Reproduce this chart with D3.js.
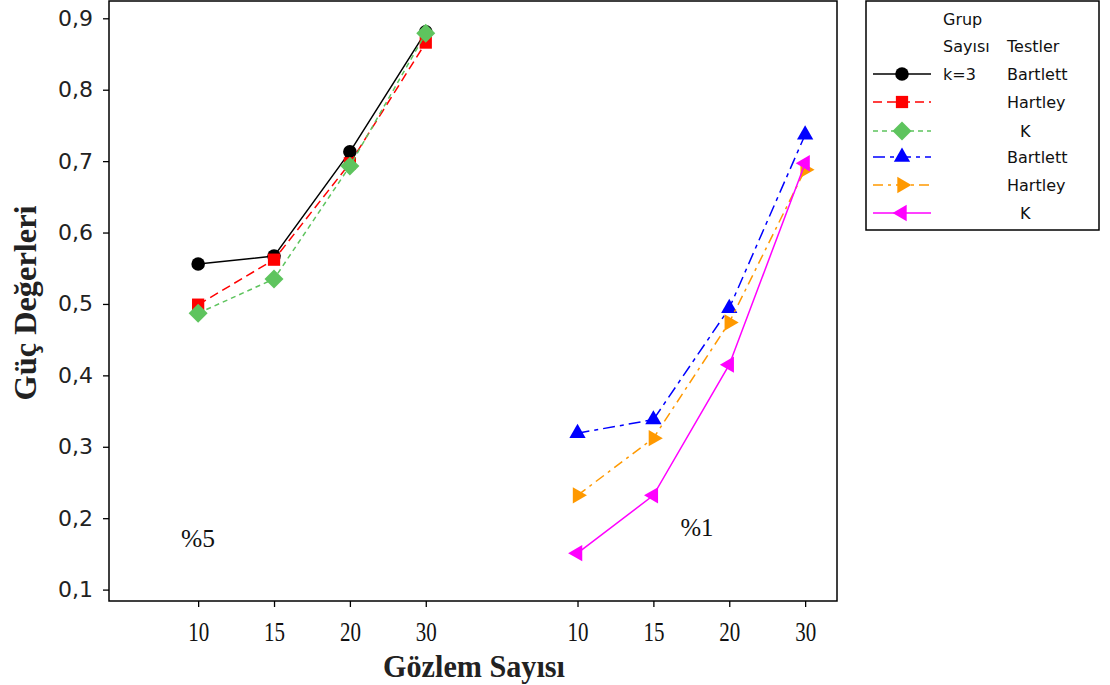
<!DOCTYPE html>
<html><head><meta charset="utf-8">
<script src="https://cdn.jsdelivr.net/npm/d3@7"></script>
<style>body{margin:0;background:#fff}svg{display:block}</style>
</head><body><svg id="c" width="1110" height="685"></svg>
<script>
const categories = ["10","15","20","30"];
const groupLabels = ["%5","%1"];
const yTicks = [0.1,0.2,0.3,0.4,0.5,0.6,0.7,0.8,0.9];
const legendTests = ["Bartlett","Hartley","K","Bartlett","Hartley","K"];
const bartlett5 = [0.556,0.567,0.713,0.881];
const hartley5  = [0.499,0.562,0.697,0.866];
const k5        = [0.487,0.535,0.693,0.879];
const bartlett1 = [0.319,0.338,0.494,0.737];
const hartley1  = [0.232,0.312,0.474,0.688];
const k1        = [0.151,0.232,0.415,0.697];

const series = [
  {vals:bartlett5, grp:0, color:"#000000", dash:null, sym:"circle"},
  {vals:hartley5,  grp:0, color:"#ff0000", dash:"9,5", sym:"square"},
  {vals:k5,        grp:0, color:"#5ec45e", dash:"5,4", sym:"diamond"},
  {vals:bartlett1, grp:1, color:"#0000ff", dash:"12,5,4,5", sym:"up"},
  {vals:hartley1,  grp:1, color:"#ff9900", dash:"10,5,3,5", sym:"right"},
  {vals:k1,        grp:1, color:"#ff00ff", dash:null, sym:"left"}
];

const svg = d3.select("#c");
const L=109, R=837, T=1, B=601;
const x = d3.scaleLinear().domain([-0.175, 9.42]).range([L,R]);
const y = d3.scaleLinear().domain([0.1,0.9]).range([589.6,18.3]);
const pos = (g,i)=> g*5 + i + 1;

function symPath(s){
  const map={circle:[d3.symbolCircle,145],square:[d3.symbolSquare,150],diamond:[d3.symbolDiamond2,230],
    up:[d3.symbolTriangle,115],right:[d3.symbolTriangle,115],left:[d3.symbolTriangle,115]};
  return d3.symbol().type(map[s][0]).size(map[s][1])();
}
const rot = {up:0,right:90,left:-90,circle:0,square:0,diamond:0};

// frame
svg.append("rect").attr("x",L).attr("y",T).attr("width",R-L).attr("height",B-T)
  .attr("fill","none").attr("stroke","#000").attr("stroke-width",1.5);

// y axis
const ya = svg.append("g").attr("transform",`translate(${L},0)`)
  .call(d3.axisLeft(y).tickValues(yTicks).tickSize(6).tickPadding(10).tickFormat(d=>d3.format(".1f")(d).replace(".",",")));
ya.select(".domain").remove();
ya.selectAll("line").attr("stroke","#000").attr("stroke-width",1.3);
ya.selectAll("text").attr("font-family","DejaVu Sans").attr("font-size",22).attr("fill","#222");

// x axis
const xticks = [];
[0,1].forEach(g=>categories.forEach((c,i)=>xticks.push({p:pos(g,i),c})));
const xa = svg.append("g").attr("transform",`translate(0,${B})`)
  .call(d3.axisBottom(x).tickValues(xticks.map(d=>d.p)).tickSize(6).tickPadding(15)
  .tickFormat((d,i)=>xticks[i].c));
xa.select(".domain").remove();
xa.selectAll("line").attr("stroke","#000").attr("stroke-width",1.3);
xa.selectAll("text").attr("font-family","Liberation Serif").attr("font-size",27)
  .attr("textLength",21).attr("lengthAdjust","spacingAndGlyphs").attr("fill","#111");

// axis titles
svg.append("text").attr("x",474).attr("y",677).attr("text-anchor","middle")
  .attr("font-family","Liberation Serif").attr("font-weight","bold").attr("font-size",32)
  .attr("textLength",182).attr("lengthAdjust","spacingAndGlyphs").attr("fill","#222").text("Gözlem Sayısı");
svg.append("text").attr("transform","translate(36,303) rotate(-90)").attr("text-anchor","middle")
  .attr("font-family","Liberation Serif").attr("font-weight","bold").attr("font-size",32)
  .attr("textLength",195).attr("lengthAdjust","spacingAndGlyphs").attr("fill","#222").text("Güç Değerleri");

// group labels
svg.append("text").attr("x",198).attr("y",547).attr("text-anchor","middle")
  .attr("font-family","Liberation Serif").attr("font-size",25).attr("textLength",34)
  .attr("lengthAdjust","spacingAndGlyphs").attr("fill","#111").text(groupLabels[0]);
svg.append("text").attr("x",697).attr("y",536).attr("text-anchor","middle")
  .attr("font-family","Liberation Serif").attr("font-size",25).attr("textLength",33)
  .attr("lengthAdjust","spacingAndGlyphs").attr("fill","#111").text(groupLabels[1]);

// lines & markers
const line = d3.line().x(d=>x(d.p)).y(d=>y(d.v));
series.forEach(s=>{
  const pts = s.vals.map((v,i)=>({p:pos(s.grp,i),v}));
  svg.append("path").datum(pts).attr("d",line).attr("fill","none").attr("stroke",s.color)
    .attr("stroke-width",1.5).attr("stroke-dasharray",s.dash);
  svg.selectAll(null).data(pts).enter().append("path")
    .attr("d",symPath(s.sym)).attr("fill",s.color)
    .attr("transform",d=>`translate(${x(d.p)},${y(d.v)}) rotate(${rot[s.sym]})`);
});

// legend
const lg = svg.append("g");
lg.append("rect").attr("x",866).attr("y",1).attr("width",233).attr("height",229)
  .attr("fill","#fff").attr("stroke","#000").attr("stroke-width",1.5);
const lf = t=>t.attr("font-family","DejaVu Sans").attr("font-size",16).attr("fill","#111");
lf(lg.append("text").attr("x",943).attr("y",25).text("Grup"));
lf(lg.append("text").attr("x",943).attr("y",52).text("Sayısı"));
lf(lg.append("text").attr("x",1007).attr("y",52).text("Testler"));
lf(lg.append("text").attr("x",943).attr("y",80).text("k=3"));
const rowY = [74,102,131,157,185,213];
series.forEach((s,i)=>{
  const yy=rowY[i];
  lg.append("line").attr("x1",873).attr("x2",931).attr("y1",yy).attr("y2",yy)
    .attr("stroke",s.color).attr("stroke-width",1.5).attr("stroke-dasharray",s.dash);
  lg.append("path").attr("d",symPath(s.sym)).attr("fill",s.color)
    .attr("transform",`translate(902,${yy}) rotate(${rot[s.sym]})`);
  const tx = legendTests[i]==="K" ? 1020 : 1007;
  lf(lg.append("text").attr("x",tx).attr("y",yy+6).text(legendTests[i]));
});
</script></body></html>
